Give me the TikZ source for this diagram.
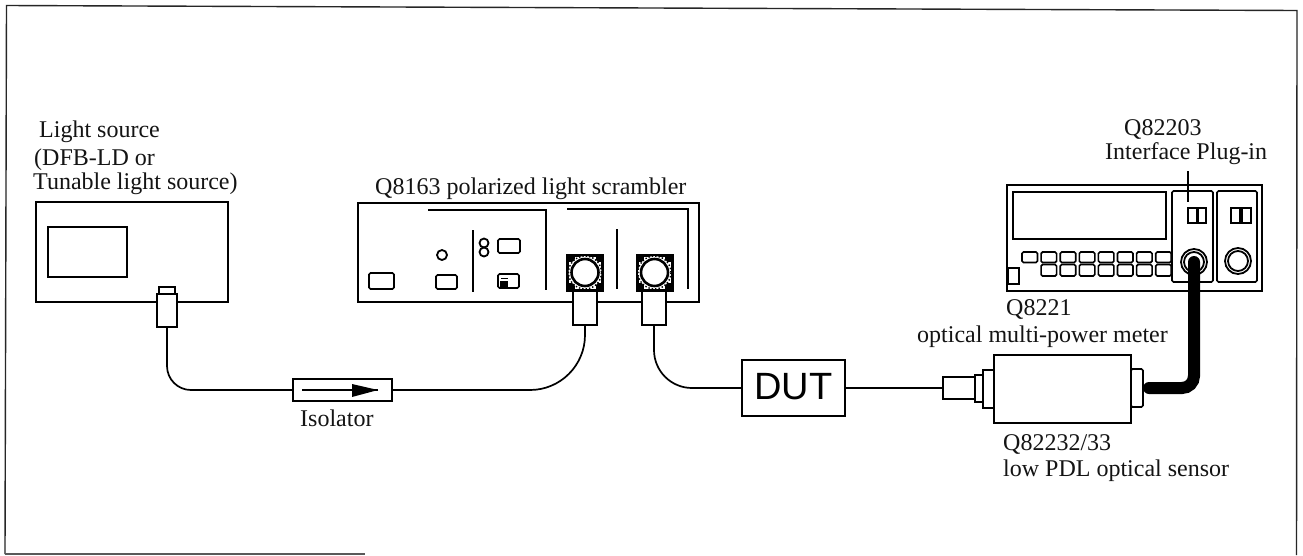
\documentclass[tikz,border=0pt]{standalone}
\usepackage{fontspec}
\setmainfont{Liberation Serif}
\newfontfamily\dutfont{Liberation Sans}
\tikzset{
  x=1pt,y=-1pt,
  part/.style={draw=black,line width=1.6pt,fill=white,inner sep=0pt,outer sep=0pt,rectangle},
  thin part/.style={part,line width=1.3pt},
  roundpart/.style={part,rounded corners=1.5pt},
  label text/.style={font=\fontsize{24}{24}\selectfont,anchor=base west,inner sep=0pt,text=black!92},
  rule/.style={draw=black,line width=1.7pt},
  cable/.style={draw=black,line width=1.7pt},
  frame/.style={draw=black!85,line width=1.4pt},
  heavy/.style={draw=black,line width=12pt,line cap=round},
  knob/.style={circle,draw=black,line width=1.8pt,fill=white,inner sep=0pt,outer sep=0pt},
}
% name, x1, y1, x2, y2, style
\newcommand{\bx}[6]{%
  \pgfmathsetmacro{\bxw}{#4-#2}\pgfmathsetmacro{\bxh}{#5-#3}%
  \pgfmathsetmacro{\bxa}{(#2+#4)/2}\pgfmathsetmacro{\bxb}{(#3+#5)/2}%
  \node[#6,minimum width=\bxw pt,minimum height=\bxh pt] (#1) at (\bxa,\bxb) {};}
\newcommand{\scport}[3]{% name, cx, cy
  \node[draw=black,line width=3pt,fill=white,inner sep=0pt,outer sep=0pt,minimum size=35pt] (#1) at (#2,#3) {};
  \fill (#1.north west) rectangle +(7,7);
  \fill (#1.north east) rectangle +(-7,7);
  \fill (#1.south west) rectangle +(7,-7);
  \fill (#1.south east) rectangle +(-7,-7);
  \node[circle,draw=black,line width=1.4pt,dotted,inner sep=0pt,minimum size=33pt,fill=white] at (#2,#3) {};
  \node[circle,draw=black,line width=2.6pt,inner sep=0pt,minimum size=27pt,fill=white] (#1c) at (#2,#3) {};}
\begin{document}
\begin{tikzpicture}
\useasboundingbox (0,0) rectangle (1303,555);
\fill[white] (0,0) rectangle (1303,555);

% outer frame
\coordinate (fa) at (5,554);
\coordinate (fb) at (6.5,5.5);
\coordinate (fc) at (1297,10.5);
\coordinate (fd) at (1296.5,555);
\coordinate (fe) at (365,554);
\draw[frame] (fa) -- (fb) -- (fc) -- (fd);
\draw[draw=black!65,line width=1.2pt] (fa) -- (fe);

% light source
\bx{src}{36}{202}{228}{302}{part}
\bx{srcscreen}{48}{227}{127}{277}{part}
\bx{plugtop}{159}{287}{175}{295}{thin part}
\bx{plug}{157}{294}{177}{327}{thin part}
\node[label text] (t1) at (39,137) {Light source};
\node[label text] (t2) at (34,165) {(DFB-LD or};
\node[label text] (t3) at (33,189) {Tunable light source)};

% isolator
\bx{iso}{293}{379}{392}{401}{part}
\coordinate (isoa) at ([xshift=9]iso.west);
\coordinate (isob) at ([xshift=-14]iso.east);
\draw[line width=1.6pt] (isoa) -- (isob);
\fill ([xshift=-26,yshift=-7]isob) -- (isob) -- ([xshift=-26,yshift=6]isob) -- cycle;
\node[label text] (t4) at (300,426) {Isolator};

% scrambler
\bx{scr}{358}{203}{699}{302}{part}
\coordinate (la) at (428,210);
\coordinate (lb) at (546,210);
\coordinate (lc) at (546,290);
\coordinate (ld) at (567,209);
\coordinate (le) at (688,209);
\coordinate (lf) at (688,289);
\draw[rule] (la) -- (lb) -- (lc);
\draw[rule] (ld) -- (le) -- (lf);
\coordinate (va) at (473,230); \coordinate (vb) at (473,292);
\coordinate (vc) at (617,229); \coordinate (vd) at (617,289);
\draw[rule] (va) -- (vb);
\draw[rule] (vc) -- (vd);
\bx{sb1}{369}{273}{394}{289}{roundpart}
\bx{sb2}{436}{275}{457}{289}{roundpart}
\bx{sb3}{498}{239}{520}{253}{roundpart}
\bx{sb4}{498}{274}{519}{288}{roundpart}
\fill (500,281) rectangle (508,287);
\draw[line width=1pt] (501,278) -- (508,278);
\node[knob,minimum size=10pt] (sc1) at (442,255) {};
\node[knob,minimum size=9pt] (sc2) at (484,243) {};
\node[knob,minimum size=9pt] (sc3) at (484,252) {};
\bx{tube1}{573}{291}{597}{325}{part}
\bx{tube2}{642}{291}{666}{325}{part}
\scport{p1}{585}{272.5}
\scport{p2}{654.5}{272.5}
\node[label text] (t5) at (375,194) {Q8163 polarized light scrambler};

% DUT
\bx{dut}{742}{360}{845}{416}{part}
\node[font=\dutfont\fontsize{38}{38}\selectfont,inner sep=0pt] (dutt) at (793.5,387) {DUT};

% sensor
\bx{tip}{943}{377}{975}{399}{part}
\bx{fl1}{975}{375}{984}{402}{part}
\bx{fl2}{983}{370}{995}{408}{part}
\bx{sens}{994}{355}{1131}{423}{part}
\bx{sensr}{1131}{369}{1143}{407}{roundpart}
\node[label text] (t6) at (1003,450) {Q82232/33};
\node[label text] (t7) at (1003,476) {low PDL optical sensor};

% meter
\bx{met}{1007}{185}{1262}{291}{part}
\bx{disp}{1013}{192}{1166}{239}{part}
\bx{pan1}{1172}{191}{1213}{282}{roundpart}
\bx{pan2}{1217}{191}{1257}{282}{roundpart}
\foreach \i in {0,...,7}{
  \pgfmathsetmacro{\xa}{1022+19.1*\i}\pgfmathsetmacro{\xb}{\xa+15.5}
  \bx{ka\i}{\xa}{252}{\xb}{262.5}{roundpart}
}
\foreach \i in {1,...,7}{
  \pgfmathsetmacro{\xa}{1022+19.1*\i}\pgfmathsetmacro{\xb}{\xa+15.5}
  \bx{kb\i}{\xa}{264.5}{\xb}{276}{roundpart}
}
\bx{msm}{1008}{268}{1019}{284}{thin part}
\bx{d1}{1188}{208}{1197}{223}{thin part}
\bx{d2}{1198}{208}{1206}{223}{thin part}
\bx{d3}{1231}{208}{1240}{223}{thin part}
\bx{d4}{1242}{208}{1251}{223}{thin part}
\node[knob,minimum size=26pt] (m1) at (1194,262) {};
\node[knob,minimum size=20pt] (m1i) at (1194,262) {};
\node[knob,minimum size=26pt] (m2) at (1238,261) {};
\node[knob,minimum size=20pt] (m2i) at (1238,261) {};
\node[label text] (t8) at (1124,135) {Q82203};
\node[label text] (t9) at (1105,159) {Interface Plug-in};
\node[label text] (t10) at (1006,315) {Q8221};
\node[label text] (t11) at (917,342) {optical multi-power meter};
\coordinate (lead) at (1188,171);
\coordinate (leadb) at (1188,202);
\draw[line width=1.5pt] (lead) -- (leadb);

% cables
\draw[cable,rounded corners=24pt] (plug.south) |- (iso.west);
\draw[cable,rounded corners=55pt] (iso.east) -| (tube1.south);
\draw[cable,rounded corners=38pt] (tube2.south) |- (dut.west);
\draw[cable] (dut.east) -- (tip.west);
\draw[heavy,rounded corners=12pt,shorten <=6pt] (sensr.east) -| (m1i.center);
\end{tikzpicture}
\end{document}
